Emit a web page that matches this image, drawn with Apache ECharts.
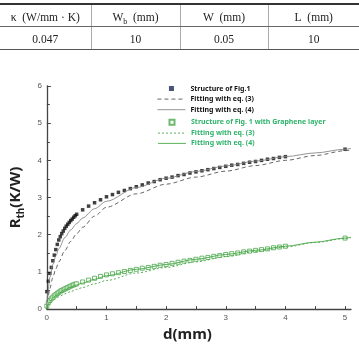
<!DOCTYPE html>
<html>
<head>
<meta charset="utf-8">
<script src="https://cdn.jsdelivr.net/npm/echarts@6/dist/echarts.min.js"></script>
<style>
	html, body { margin: 0; padding: 0; background: #fff; }
	#wrap { position: relative; width: 359px; height: 347px; }
	#chart { position: absolute; left: 0; top: 0; width: 359px; height: 347px; }
	#params {
		position: absolute; left: 0; top: 3px; width: 359px;
		border-collapse: collapse; table-layout: fixed;
		font-family: 'Liberation Serif', 'DejaVu Serif', serif;
		font-size: 11.5px; color: #222;
	}
	#params td { text-align: center; padding: 0; border-left: 1px solid #aaa; }
	#params td:first-child { border-left: none; }
	#params tr.head td { height: 19px; border-top: 2px solid #333; border-bottom: 1px solid #666; padding-top: 2px; }
	#params tr.row td { height: 21px; border-bottom: 1.5px solid #555; padding-top: 1px; }
	#params .sub { font-size: 8px; position: relative; top: 3px; }
</style>
</head>
<body>
<div id="wrap">
	<div id="chart"></div>
	<table id="params">
		<colgroup><col style="width:91px"><col style="width:89px"><col style="width:88px"><col style="width:91px"></colgroup>
		<tr class="head"><td>κ&nbsp;&nbsp;(W/mm · K)</td><td>W<span class="sub">b</span>&nbsp;&nbsp;(mm)</td><td>W&nbsp;&nbsp;(mm)</td><td>L&nbsp;&nbsp;(mm)</td></tr>
		<tr class="row"><td>0.047</td><td>10</td><td>0.05</td><td>10</td></tr>
	</table>
</div>
<script>
//测量点 d(mm)
var dMeas = [0, 0.025, 0.05, 0.075, 0.1, 0.125, 0.15, 0.175, 0.2, 0.225, 0.25, 0.275, 0.3, 0.325, 0.35, 0.375, 0.4, 0.425, 0.45, 0.475, 0.5,
	0.6, 0.7, 0.8, 0.9, 1.0, 1.1, 1.2, 1.3, 1.4, 1.5, 1.6, 1.7, 1.8, 1.9, 2.0, 2.1, 2.2, 2.3, 2.4, 2.5, 2.6, 2.7, 2.8, 2.9,
	3.0, 3.1, 3.2, 3.3, 3.4, 3.5, 3.6, 3.7, 3.8, 3.9, 4.0, 5.0];
//Structure of Fig.1
var rFig1 = [0.47, 0.75, 0.96, 1.12, 1.3, 1.45, 1.6, 1.74, 1.86, 1.95, 2.03, 2.1, 2.17, 2.23, 2.28, 2.33, 2.38, 2.42, 2.47, 2.51, 2.55,
	2.67, 2.77, 2.86, 2.94, 3.02, 3.08, 3.14, 3.19, 3.24, 3.29, 3.34, 3.39, 3.43, 3.48, 3.52, 3.55, 3.59, 3.62, 3.66, 3.69, 3.72, 3.75, 3.78, 3.81,
	3.84, 3.87, 3.89, 3.92, 3.95, 3.97, 4.00, 4.03, 4.05, 4.08, 4.10, 4.30];
//Structure of Fig. 1 with Graphene layer
var rGraphene = [0.08, 0.17, 0.23, 0.28, 0.32, 0.36, 0.39, 0.42, 0.45, 0.48, 0.5, 0.52, 0.54, 0.56, 0.58, 0.6, 0.62, 0.64, 0.65, 0.67, 0.68,
	0.73, 0.78, 0.83, 0.88, 0.92, 0.95, 0.98, 1.01, 1.04, 1.07, 1.1, 1.12, 1.15, 1.18, 1.2, 1.23, 1.26, 1.29, 1.31, 1.34, 1.37, 1.39, 1.42, 1.44,
	1.47, 1.49, 1.51, 1.54, 1.56, 1.58, 1.6, 1.62, 1.65, 1.67, 1.69, 1.91];

//拟合曲线 d(mm)
var dFit = [0, 0.01, 0.02, 0.05, 0.1, 0.15, 0.2, 0.3, 0.4, 0.5, 0.6, 0.8, 1.0, 1.5, 2, 2.5, 3, 3.5, 4, 4.5, 5, 5.1];
var rFig1Eq3 = [0, 0.22, 0.33, 0.55, 0.85, 1.08, 1.27, 1.57, 1.82, 2.03, 2.2, 2.5, 2.74, 3.1, 3.36, 3.55, 3.71, 3.86, 4.0, 4.13, 4.26, 4.28];
var rFig1Eq4 = [0, 0.35, 0.5, 0.85, 1.2, 1.43, 1.62, 1.92, 2.13, 2.3, 2.45, 2.7, 2.9, 3.27, 3.52, 3.7, 3.85, 3.98, 4.1, 4.2, 4.3, 4.32];
var rGrapEq3 = [0, 0.07, 0.1, 0.15, 0.22, 0.28, 0.33, 0.41, 0.47, 0.53, 0.58, 0.68, 0.77, 0.97, 1.12, 1.27, 1.41, 1.55, 1.67, 1.79, 1.9, 1.92];
var rGrapEq4 = [0, 0.09, 0.12, 0.2, 0.3, 0.37, 0.43, 0.52, 0.59, 0.65, 0.7, 0.8, 0.9, 1.07, 1.2, 1.34, 1.47, 1.58, 1.69, 1.8, 1.91, 1.93];

//坐标轴刻度
var xTickVals = [0, 0.5, 1, 1.5, 2, 2.5, 3, 3.5, 4, 4.5, 5];
var xLabelVals = [0, 1, 2, 3, 4, 5];

function pairs(xs, ys) {
	var out = [];
	for (var i = 0; i < xs.length; i++) {
		out.push([xs[i], ys[i]]);
	}
	return out;
}

var green = '#4aa84a';
var greenText = '#2fb36a';
var legendText = {
	fontSize: 7,
	fontWeight: 'bold',
	fontFamily: 'Noto Sans',
	lineHeight: 7
};
//图例中的线条只画线，不画中间的圆点
var lineItem = {
	itemStyle: { opacity: 0 },
	lineStyle: { width: 0.9 }
};
//图例方块：路径范围与图标宽高一致，方块不会被拉伸
var squareIcon = 'path://M0,0M28,6M11.5,0.5h5v5h-5z';

var myChart = echarts.init(document.getElementById('chart'));
var option = {
	animation: false,
	grid: {
		left: 36,
		right: 8,
		top: 86,
		bottom: 31
	},
	legend: [{
		orient: 'vertical',
		left: 157,
		top: 85,
		padding: 0,
		itemWidth: 28,
		itemHeight: 6,
		itemGap: 3.6,
		selectedMode: false,
		textStyle: Object.assign({ color: '#111' }, legendText),
		data: [{
			name: 'Structure of Fig.1',
			icon: squareIcon,
			itemStyle: { color: '#1c2a55' }
		}, Object.assign({ name: 'Fitting with eq. (3)' }, lineItem),
		Object.assign({ name: 'Fitting with eq. (4)' }, lineItem)]
	}, {
		orient: 'vertical',
		left: 157,
		top: 118.3,
		padding: 0,
		itemWidth: 28,
		itemHeight: 6,
		itemGap: 3.3,
		selectedMode: false,
		textStyle: Object.assign({ color: greenText }, legendText),
		data: [{
			name: 'Structure of Fig. 1 with Graphene layer',
			icon: squareIcon
		}, Object.assign({ name: 'Fitting with eq. (3) ' }, lineItem),
		Object.assign({ name: 'Fitting with eq. (4) ' }, lineItem)]
	}],
	xAxis: {
		type: 'value',
		min: 0,
		max: 5.1,
		interval: 1,
		name: 'd(mm)',
		nameLocation: 'middle',
		nameGap: 9,
		nameTextStyle: {
			fontSize: 15,
			fontWeight: 'bold',
			fontFamily: 'Noto Sans',
			color: '#222',
			padding: [0, 23, 0, 0],
			verticalAlign: 'top'
		},
		axisLine: { lineStyle: { color: '#444', width: 1.3 } },
		axisTick: { inside: true, length: 3, customValues: xTickVals, lineStyle: { color: '#444' } },
		axisLabel: {
			customValues: xLabelVals,
			margin: 5,
			fontSize: 8,
			color: '#555',
			fontFamily: 'Liberation Sans'
		},
		splitLine: { show: false }
	},
	yAxis: {
		type: 'value',
		min: 0,
		max: 6,
		interval: 1,
		name: '{a|R}{b|th}{a|(K/W)}',
		nameLocation: 'middle',
		nameGap: 11,
		nameTextStyle: {
			color: '#222',
			rich: {
				a: { fontSize: 15, fontWeight: 'bold', fontFamily: 'Noto Sans', lineHeight: 22, verticalAlign: 'middle' },
				b: { fontSize: 10, fontWeight: 'bold', fontFamily: 'Noto Sans', lineHeight: 22, verticalAlign: 'bottom' }
			}
		},
		axisLine: { show: true, lineStyle: { color: '#444', width: 1.3 } },
		axisTick: { show: true, inside: true, length: 4, lineStyle: { color: '#444' } },
		minorTick: { show: true, splitNumber: 2, length: 3, lineStyle: { color: '#444' } },
		axisLabel: {
			margin: 5,
			fontSize: 8,
			color: '#555',
			fontFamily: 'Liberation Sans'
		},
		splitLine: { show: false }
	},
	series: [{
		name: 'Fitting with eq. (3)',
		type: 'line',
		symbol: 'none',
		smooth: 0.3,
		smoothMonotone: 'x',
		lineStyle: { color: '#555', width: 0.9, type: [4, 3] },
		itemStyle: { color: '#555' },
		data: pairs(dFit, rFig1Eq3)
	}, {
		name: 'Fitting with eq. (4)',
		type: 'line',
		symbol: 'none',
		smooth: 0.3,
		smoothMonotone: 'x',
		lineStyle: { color: '#888', width: 0.9 },
		itemStyle: { color: '#888' },
		data: pairs(dFit, rFig1Eq4)
	}, {
		name: 'Structure of Fig.1',
		type: 'scatter',
		symbol: 'rect',
		symbolSize: 3.5,
		itemStyle: { color: '#111' },
		data: pairs(dMeas, rFig1)
	}, {
		name: 'Fitting with eq. (3) ',
		type: 'line',
		symbol: 'none',
		smooth: 0.3,
		smoothMonotone: 'x',
		lineStyle: { color: green, width: 0.9, type: [2, 2] },
		itemStyle: { color: green },
		data: pairs(dFit, rGrapEq3)
	}, {
		name: 'Fitting with eq. (4) ',
		type: 'line',
		symbol: 'none',
		smooth: 0.3,
		smoothMonotone: 'x',
		lineStyle: { color: green, width: 0.9 },
		itemStyle: { color: green },
		data: pairs(dFit, rGrapEq4)
	}, {
		name: 'Structure of Fig. 1 with Graphene layer',
		type: 'scatter',
		symbol: 'rect',
		symbolSize: 4,
		itemStyle: { color: '#fff', borderColor: green, borderWidth: 1 },
		data: pairs(dMeas, rGraphene)
	}]
};
myChart.setOption(option);
</script>
</body>
</html>
